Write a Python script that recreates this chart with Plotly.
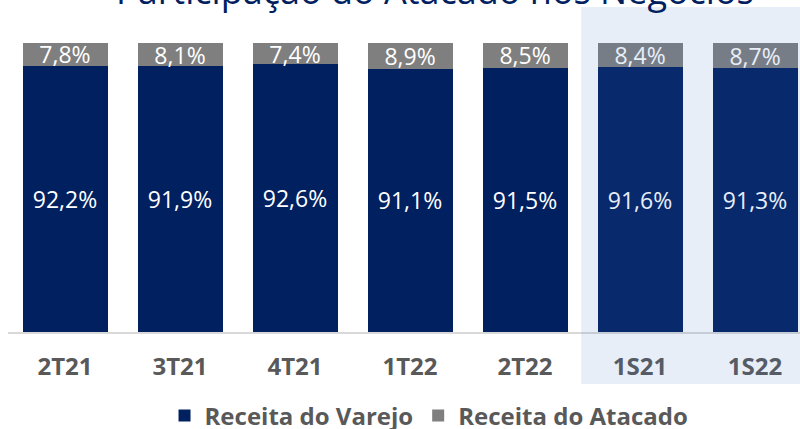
import plotly.graph_objects as go

categories = ["2T21", "3T21", "4T21", "1T22", "2T22", "1S21", "1S22"]
varejo = [92.2, 91.9, 92.6, 91.1, 91.5, 91.6, 91.3]
atacado = [7.8, 8.1, 7.4, 8.9, 8.5, 8.4, 8.7]
series_names = ["Receita do Varejo", "Receita do Atacado"]
title_text = "Participação do Atacado nos Negócios"

BLUE = "#002060"
GRAY = "#7f7f7f"
FONT = "Open Sans"

fig = go.Figure()
for name, vals, col in [(series_names[0], varejo, BLUE), (series_names[1], atacado, GRAY)]:
    fig.add_trace(go.Bar(
        x=list(range(len(categories))), y=vals, name=name,
        marker=dict(color=col, line=dict(width=0)),
        texttemplate="%{y:.1f}%", textposition="inside",
        insidetextanchor="middle", textangle=0,
        textfont=dict(family=FONT, size=23, color="white"),
        hoverinfo="skip",
    ))

fig.update_layout(
    width=800, height=429,
    barmode="stack", bargap=0.261,
    separators=",.",
    plot_bgcolor="white", paper_bgcolor="white",
    margin=dict(l=8, r=0, t=43, b=97, autoexpand=False),
    uniformtext=dict(minsize=23, mode="show"),
    showlegend=True,
    legend=dict(
        orientation="h", x=0.5316, xanchor="center", y=-0.29, yanchor="middle",
        font=dict(family=FONT, size=24, color="#595959", weight="bold"),
        traceorder="normal", bgcolor="rgba(0,0,0,0)",
    ),
    xaxis=dict(
        range=[-0.4957, 6.391], tickmode="array",
        tickvals=list(range(len(categories))), ticktext=categories,
        showline=True, linecolor="#d9d9d9", linewidth=2,
        showgrid=False, zeroline=False, ticks="",
        ticklabelstandoff=12,
        tickfont=dict(family=FONT, size=24, color="#595959", weight="bold"),
    ),
    yaxis=dict(range=[0, 100], visible=False, showgrid=False, zeroline=False),
    shapes=[dict(
        type="rect", xref="paper", yref="paper",
        x0=0.7237, x1=1.01, y0=-0.18, y1=1.1246,
        fillcolor="rgba(68,114,196,0.12)", line=dict(width=0), layer="above",
    )],
    annotations=[dict(
        text=title_text, xref="paper", yref="paper", x=0.539, y=1.0898,
        xanchor="center", yanchor="bottom", showarrow=False,
        font=dict(family=FONT, size=36, color=BLUE),
    )],
)

fig.write_html(
    "out.html",
    config={"displayModeBar": False},
    post_script="document.body.style.margin='0';document.body.style.overflow='hidden';",
)
